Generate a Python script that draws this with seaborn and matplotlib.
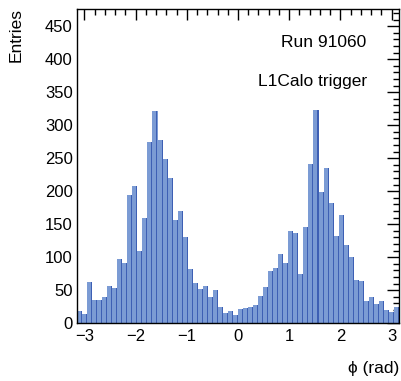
import numpy as np
import pandas as pd
import matplotlib
matplotlib.use("Agg")
import matplotlib.pyplot as plt
import seaborn as sns
from matplotlib.ticker import MultipleLocator

# ---- data ----
n_bins = 64
counts = [18, 14, 62, 35, 35, 40, 57, 54, 97, 91, 194, 208, 110, 160, 275, 322,
          278, 249, 220, 157, 170, 131, 82, 61, 52, 57, 40, 50, 25, 16, 19, 13,
          22, 23, 25, 28, 41, 55, 79, 84, 105, 91, 140, 137, 75, 146, 241, 323,
          199, 235, 182, 132, 164, 119, 100, 66, 64, 34, 40, 29, 34, 20, 17, 25]
x_ticks = [-3, -2, -1, 0, 1, 2, 3]
y_ticks = [0, 50, 100, 150, 200, 250, 300, 350, 400, 450]
labels = ["Run 91060", "L1Calo trigger"]
x_label = "ϕ (rad)"
y_label = "Entries"

edges = np.linspace(-np.pi, np.pi, n_bins + 1)
centers = 0.5 * (edges[:-1] + edges[1:])
df = pd.DataFrame({"phi": centers, "n": counts})

sns.set_style("white")
plt.rcParams["font.family"] = ["Liberation Sans", "DejaVu Sans"]
plt.rcParams["text.color"] = "black"
plt.rcParams["xtick.color"] = "black"
plt.rcParams["ytick.color"] = "black"

fig = plt.figure(figsize=(4.01, 3.81), dpi=100)
ax = fig.add_axes([77 / 401, 1 - 323.3 / 381, 322 / 401, (323.3 - 9) / 381])

sns.histplot(data=df, x="phi", weights="n", bins=n_bins,
             binrange=(-np.pi, np.pi), ax=ax,
             color="#7b9bd4", alpha=1, edgecolor="#7b9bd4", linewidth=0)
# darker right side of each bar (ROOT bar shading)
bw = edges[1] - edges[0]
strip = bw * 0.2
ax.bar(edges[1:] - strip, counts, width=strip, align="edge",
       color="#3d5fb4", linewidth=0)

ax.set_xlim(-np.pi, np.pi)
ax.set_ylim(0, 476)
ax.set_xticks(x_ticks)
ax.set_yticks(y_ticks)
ax.xaxis.set_minor_locator(MultipleLocator(0.2))
ax.yaxis.set_minor_locator(MultipleLocator(10))
ax.tick_params(which="both", direction="in", top=True, right=True,
               labelsize=12, colors="black", labelcolor="black")
ax.tick_params(axis="x", which="major", length=8, width=1, pad=4)
ax.tick_params(axis="x", which="minor", length=4, width=1)
ax.tick_params(axis="y", which="major", length=9, width=1, pad=3)
ax.tick_params(axis="y", which="minor", length=4.5, width=1)
ax.set_xticklabels(["\u22123", "\u22122", "\u22121", "0", "1", "2", "3"])
for s in ax.spines.values():
    s.set_color("black")
    s.set_linewidth(1)
ax.set_xlabel("")
ax.set_ylabel("")

ax.text(0.899, 0.895, labels[0], transform=ax.transAxes, ha="right",
        va="center", fontsize=12.5, color="black")
ax.text(0.902, 0.768, labels[1], transform=ax.transAxes, ha="right",
        va="center", fontsize=12.5, color="black")

fig.text(16 / 401, 1 - 8 / 381, y_label, rotation=90, ha="center",
         va="top", fontsize=12.5, color="black")
fig.text(399 / 401, 1 - 368 / 381, x_label, ha="right", va="center",
         fontsize=12.5, color="black")

fig.savefig("out.png", dpi=100)
